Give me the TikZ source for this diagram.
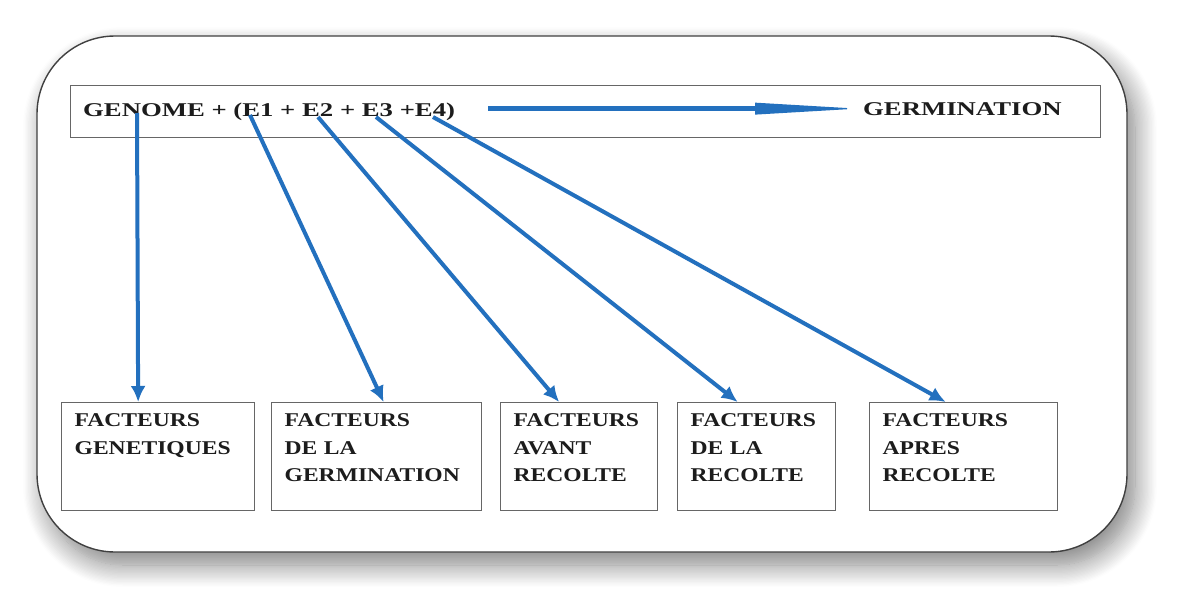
\documentclass[tikz,border=0pt]{standalone}
\usepackage{fontspec}
\setmainfont{Liberation Serif}
\newfontfamily\headfont{Liberation Serif}[FakeStretch=1.37]
\newfontfamily\boxfont{Liberation Serif}[FakeStretch=1.21]
\usetikzlibrary{arrows.meta,shadows.blur}
\definecolor{flowblue}{RGB}{35,112,190}
\definecolor{inkgray}{RGB}{28,28,28}

\begin{document}
\begin{tikzpicture}[x=1pt, y=-1pt,
    frame/.style={draw=black!75, line width=1.4pt, fill=white,
      rounded corners=78pt,
      blur shadow={shadow xshift=8pt, shadow yshift=-13pt,
        shadow blur radius=22pt, shadow blur steps=18, shadow opacity=50}},
    headbox/.style={draw=black!60, line width=1.3pt, inner sep=0pt,
      minimum width=1030pt, minimum height=52pt, anchor=north west},
    headtext/.style={inner sep=0pt, anchor=base west, text=inkgray,
      font=\headfont\bfseries\fontsize{19.5}{23}\selectfont},
    factbox/.style={draw=black!60, line width=1.3pt, anchor=north west,
      align=left, inner xsep=13pt, inner ysep=11pt, text=inkgray,
      font=\boxfont\bfseries\fontsize{19.5}{27.5}\selectfont},
    flow/.style={draw=flowblue, line width=4pt,
      -{Latex[length=16pt,width=15pt]}},
    germflow/.style={draw=flowblue, line width=5pt}]

    \useasboundingbox (0,0) rectangle (1184,616);

    % outer frame
    \draw [frame] (37,36) rectangle (1127,552);

    % top line
    \node [headbox] (head) at (70,85) {};
    \node [headtext] (form) at (83,116) {GENOME + (E1 + E2 + E3 +E4)};
    \node [headtext] (germ) at (863,115) {GERMINATION};
    \draw [germflow, shorten <=33pt, shorten >=104pt]
      (form.east |- germ.west) -- (germ.west);
    % tapered head of that arrow
    \fill [flowblue] ([shift={(-108,-6)}]germ.west)
      -- ([shift={(-74,-4)}]germ.west) -- ([shift={(-16,-0.6)}]germ.west)
      -- ([shift={(-16,0.6)}]germ.west) -- ([shift={(-74,4)}]germ.west)
      -- ([shift={(-108,6)}]germ.west) -- cycle;

    % factor boxes
    \node [factbox, text width=167pt] (b1) at (61,402)
      {\vbox to 86pt{FACTEURS\\GENETIQUES\vfil}};
    \node [factbox, text width=184pt] (b2) at (271,402)
      {\vbox to 86pt{FACTEURS\\DE LA\\GERMINATION\vfil}};
    \node [factbox, text width=131pt] (b3) at (500,402)
      {\vbox to 86pt{FACTEURS\\AVANT\\RECOLTE\vfil}};
    \node [factbox, text width=132pt] (b4) at (677,402)
      {\vbox to 86pt{FACTEURS\\DE LA\\RECOLTE\vfil}};
    \node [factbox, text width=162pt] (b5) at (869,402)
      {\vbox to 86pt{FACTEURS\\APRES\\RECOLTE\vfil}};

    % arrows from the formula
    \coordinate (sN) at (137,113);
    \coordinate (s1) at (250,115);
    \coordinate (s2) at (318,117);
    \coordinate (s3) at (376,117);
    \coordinate (s4) at (433,117);

    \foreach \s/\b/\d in {sN/b1/-20, s1/b2/7, s2/b3/-20, s3/b4/-19, s4/b5/-18}
      \draw [flow] (\s) -- ([xshift=\d pt]\b.north);

  \end{tikzpicture}
\end{document}
